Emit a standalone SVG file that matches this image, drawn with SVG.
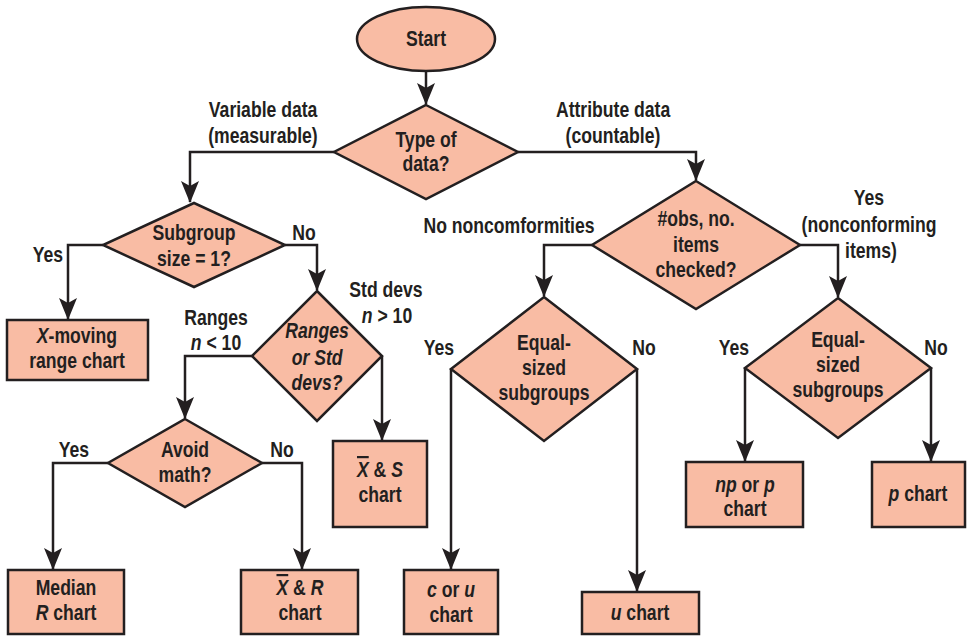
<svg xmlns="http://www.w3.org/2000/svg" width="968" height="637" viewBox="0 0 968 637">
<defs>
<style>
.n{fill:#f9bca4;stroke:#231f20;stroke-width:2.5}
.c{fill:none;stroke:#231f20;stroke-width:2.5}
text{font-family:'Liberation Sans',Arial,sans-serif;font-weight:bold;font-size:22px;fill:#231f20;text-anchor:middle;transform-box:fill-box;transform-origin:center;transform:scaleX(0.8)}
.i{font-style:italic}
.o{text-decoration:overline}
</style>
<marker id="ah" viewBox="0 0 22 18" refX="21" refY="9" markerWidth="22" markerHeight="18" markerUnits="userSpaceOnUse" orient="auto">
<path d="M0,0 L22,9 L0,18 L5,9 Z" fill="#231f20"/>
</marker>
</defs>
<rect width="968" height="637" fill="#ffffff"/>
<g id="connectors">
<path class="c" d="M426,71 V104" marker-end="url(#ah)"/>
<path class="c" d="M334,152 H190 V202" marker-end="url(#ah)"/>
<path class="c" d="M518,152 H696 V180" marker-end="url(#ah)"/>
<path class="c" d="M103,245 H68 V319" marker-end="url(#ah)"/>
<path class="c" d="M285,245 H317 V290" marker-end="url(#ah)"/>
<path class="c" d="M252,356 H185 V418" marker-end="url(#ah)"/>
<path class="c" d="M382,356 V440" marker-end="url(#ah)"/>
<path class="c" d="M108,463 H53 V569" marker-end="url(#ah)"/>
<path class="c" d="M262,463 H302 V569" marker-end="url(#ah)"/>
<path class="c" d="M592,245 H544 V296" marker-end="url(#ah)"/>
<path class="c" d="M800,245 H838 V297" marker-end="url(#ah)"/>
<path class="c" d="M451,369 V569" marker-end="url(#ah)"/>
<path class="c" d="M637,369 V591" marker-end="url(#ah)"/>
<path class="c" d="M745,368 V461" marker-end="url(#ah)"/>
<path class="c" d="M931,368 V461" marker-end="url(#ah)"/>
</g>
<g id="labels">
<text x="263" y="117">Variable data</text>
<text x="263" y="143">(measurable)</text>
<text x="613" y="117">Attribute data</text>
<text x="613" y="143">(countable)</text>
<text x="48" y="262">Yes</text>
<text x="304" y="240">No</text>
<text x="216" y="325">Ranges</text>
<text x="216" y="350"><tspan class="i">n</tspan> &lt; 10</text>
<text x="386" y="297">Std devs</text>
<text x="387" y="323"><tspan class="i">n</tspan> &gt; 10</text>
<text x="74" y="457">Yes</text>
<text x="282" y="457">No</text>
<text x="509" y="233">No noncomformities</text>
<text x="869" y="205">Yes</text>
<text x="869" y="232">(nonconforming</text>
<text x="871" y="258">items)</text>
<text x="439" y="355">Yes</text>
<text x="644" y="355">No</text>
<text x="734" y="355">Yes</text>
<text x="936" y="355">No</text>
</g>
<g id="start">
<ellipse class="n" cx="426" cy="39" rx="69" ry="32"/>
<text x="426" y="46">Start</text>
</g>
<g id="type-of-data">
<polygon class="n" points="426,105 518,152 426,199 334,152"/>
<text x="426" y="147">Type of</text>
<text x="426" y="171">data?</text>
</g>
<g id="subgroup-size">
<polygon class="n" points="194,203 285,245 194,287 103,245"/>
<text x="194" y="240">Subgroup</text>
<text x="194" y="266">size = 1?</text>
</g>
<g id="x-moving">
<rect class="n" x="7" y="320" width="141" height="60"/>
<text x="77" y="343"><tspan class="i">X</tspan>-moving</text>
<text x="77" y="368">range chart</text>
</g>
<g id="ranges-or-std">
<polygon class="n" points="317,291 382,356 317,421 252,356"/>
<text class="i" x="317" y="338">Ranges</text>
<text class="i" x="317" y="365">or Std</text>
<text class="i" x="317" y="390">devs?</text>
</g>
<g id="xbar-s">
<rect class="n" x="333" y="441" width="94" height="86"/>
<text x="380" y="477"><tspan class="i o">X</tspan> &amp; <tspan class="i">S</tspan></text>
<text x="380" y="502">chart</text>
</g>
<g id="avoid-math">
<polygon class="n" points="185,419 262,463 185,507 108,463"/>
<text x="185" y="457">Avoid</text>
<text x="185" y="482">math?</text>
</g>
<g id="median-r">
<rect class="n" x="8" y="570" width="116" height="64"/>
<text x="66" y="595">Median</text>
<text x="66" y="620"><tspan class="i">R</tspan> chart</text>
</g>
<g id="xbar-r">
<rect class="n" x="241" y="570" width="117" height="64"/>
<text x="300" y="595"><tspan class="i o">X</tspan> &amp; <tspan class="i">R</tspan></text>
<text x="300" y="620">chart</text>
</g>
<g id="obs-items">
<polygon class="n" points="696,181 800,245 696,309 592,245"/>
<text x="696" y="226">#obs, no.</text>
<text x="696" y="252">items</text>
<text x="696" y="277">checked?</text>
</g>
<g id="equal-left">
<polygon class="n" points="544,297 637,369 544,441 451,369"/>
<text x="544" y="350">Equal-</text>
<text x="544" y="375">sized</text>
<text x="544" y="400">subgroups</text>
</g>
<g id="c-or-u">
<rect class="n" x="404" y="570" width="94" height="64"/>
<text x="451" y="597"><tspan class="i">c</tspan> or <tspan class="i">u</tspan></text>
<text x="451" y="622">chart</text>
</g>
<g id="u-chart">
<rect class="n" x="582" y="592" width="117" height="42"/>
<text x="640" y="620"><tspan class="i">u</tspan> chart</text>
</g>
<g id="equal-right">
<polygon class="n" points="838,298 931,368 838,438 745,368"/>
<text x="838" y="347">Equal-</text>
<text x="838" y="372">sized</text>
<text x="838" y="397">subgroups</text>
</g>
<g id="np-or-p">
<rect class="n" x="686" y="462" width="117" height="65"/>
<text x="745" y="492"><tspan class="i">np</tspan> or <tspan class="i">p</tspan></text>
<text x="745" y="516">chart</text>
</g>
<g id="p-chart">
<rect class="n" x="872" y="462" width="93" height="65"/>
<text x="918" y="501"><tspan class="i">p</tspan> chart</text>
</g>
</svg>
